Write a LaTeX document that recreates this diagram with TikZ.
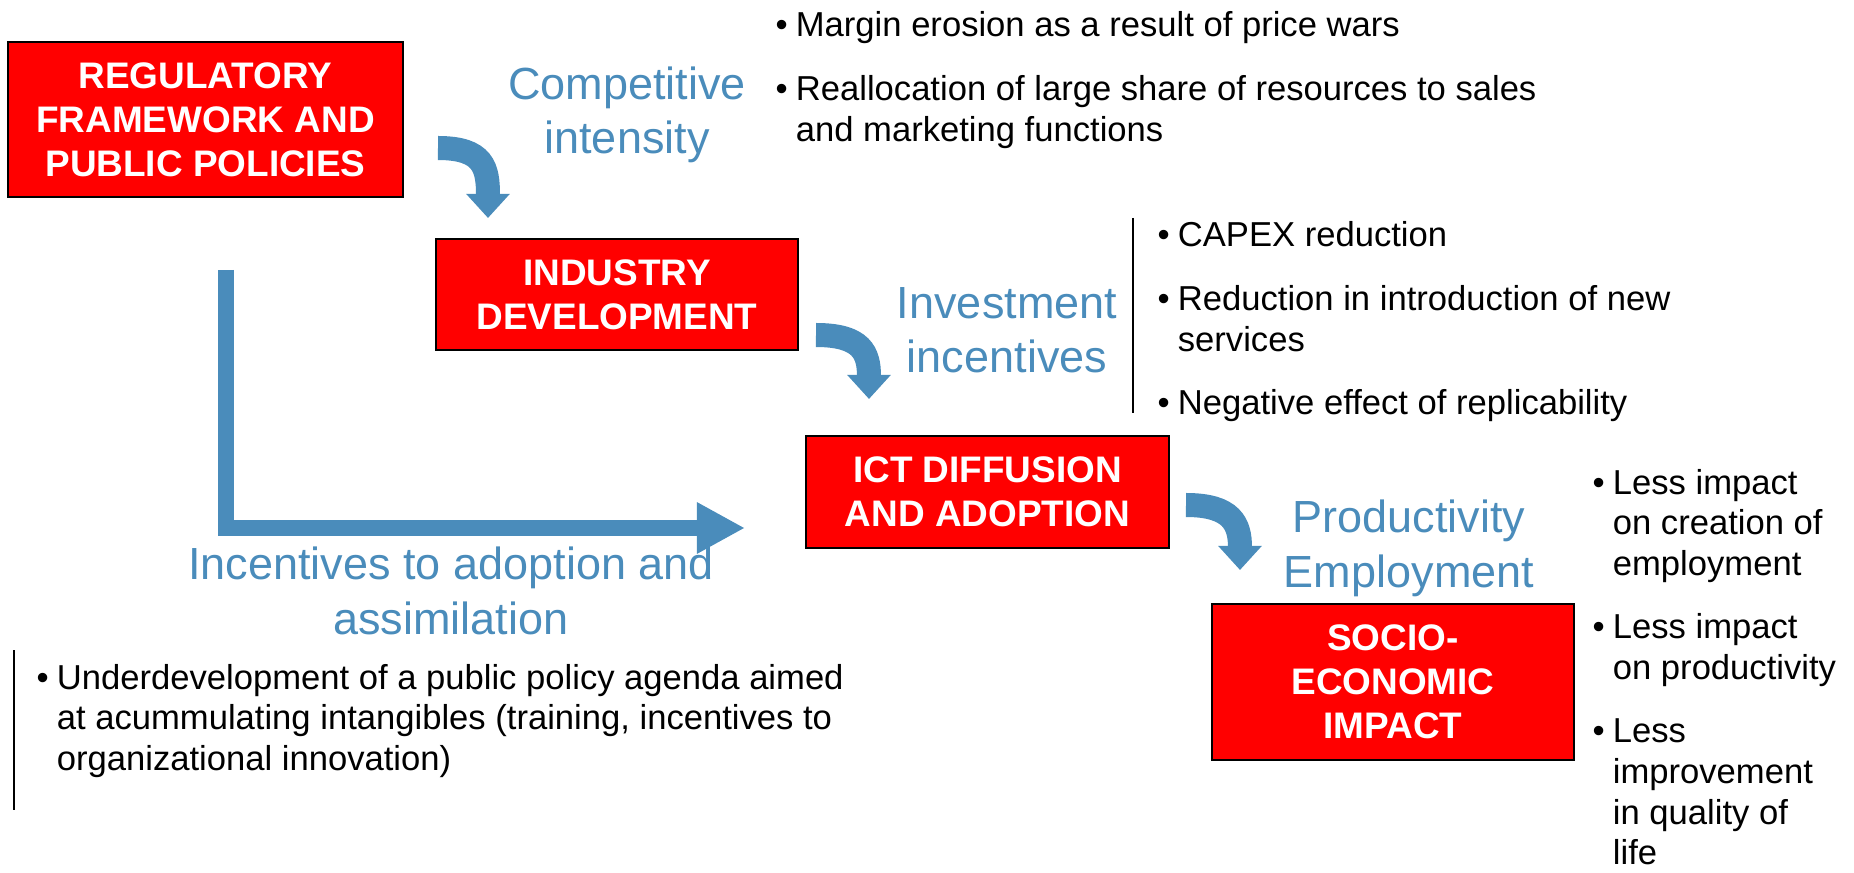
\documentclass[tikz,border=0pt]{standalone}
\usepackage{fontspec}
\setmainfont{Liberation Sans}
\usetikzlibrary{arrows.meta}

\definecolor{flowblue}{RGB}{74,140,187}

\tikzset{
  redbox/.style={draw=black, line width=0.6pt, fill=red, text=white, align=center,
    inner sep=0pt, font=\fontsize{10.5pt}{12.5pt}\selectfont\bfseries},
  bluelabel/.style={text=flowblue, align=center, anchor=base, inner sep=0pt,
    font=\fontsize{12.8pt}{15.4pt}\selectfont},
  bullets/.style={anchor=base west, inner sep=0pt, font=\fontsize{9.84pt}{11.52pt}\selectfont},
  curvy/.style={flowblue, line width=0.24cm, -{Triangle[length=0.24cm,width=0.42cm]}},
  bigarrow/.style={flowblue, line width=0.16cm, line join=miter, -{Triangle[length=0.48cm,width=0.48cm]}}
}

\begin{document}
\begin{tikzpicture}[x=0.01cm, y=-0.01cm]
\useasboundingbox (0,0) rectangle (1854,873);

% the four stages
\node[redbox, minimum width=3.95cm, minimum height=1.55cm] (reg) at (205.5,119.5) {REGULATORY\\FRAMEWORK AND\\PUBLIC POLICIES};
\node[redbox, minimum width=3.62cm, minimum height=1.11cm] (ind) at (617,294.5) {INDUSTRY\\DEVELOPMENT};
\node[redbox, minimum width=3.63cm, minimum height=1.12cm] (ict) at (987.5,492) {ICT DIFFUSION\\AND ADOPTION};
\node[redbox, minimum width=3.62cm, minimum height=1.56cm] (soc) at (1393,682) {SOCIO-\\ECONOMIC\\IMPACT};

% channels (placed at the baseline of the last line)
\node[bluelabel] (compint) at (627,154) {Competitive\\intensity};
\node[bluelabel] (invinc) at (1007,373) {Investment\\incentives};
\node[bluelabel] (prodemp) at (1409,587) {Productivity\\Employment};
\node[bluelabel] (adopt) at (451,634) {Incentives to adoption and\\assimilation};

% curved arrows
\coordinate (c1s) at (438,148);
\coordinate (c1e) at (488,218);
\coordinate (c2s) at (816,335);
\coordinate (c2e) at (869,399);
\coordinate (c3s) at (1186,505);
\coordinate (c3e) at (1240,570);
\draw[curvy] (c1s) .. controls +(46,0) and +(0,-50) .. (c1e);
\draw[curvy] (c2s) .. controls +(46,0) and +(0,-46) .. (c2e);
\draw[curvy] (c3s) .. controls +(46,0) and +(0,-46) .. (c3e);

% long arrow
\coordinate (lstart) at (226,270);
\coordinate (lend) at (745,528);
\draw[bigarrow] (lstart) |- (lend);

% effects
\node[bullets] (compnotes) at (775,37) {\begin{tabular}[t]{@{}l@{\hspace{2.3pt}}l@{}}
\textbullet & Margin erosion as a result of price wars\\[6.6pt]
\textbullet & Reallocation of large share of resources to sales\\
 & and marketing functions
\end{tabular}};
\node[bullets] (invnotes) at (1157,247) {\begin{tabular}[t]{@{}l@{\hspace{2.3pt}}l@{}}
\textbullet & CAPEX reduction\\[6.6pt]
\textbullet & Reduction in introduction of new\\
 & services\\[6.6pt]
\textbullet & Negative effect of replicability
\end{tabular}};
\node[bullets] (socnotes) at (1592,494) {\begin{tabular}[t]{@{}l@{\hspace{2.3pt}}l@{}}
\textbullet & Less impact\\
 & on creation of\\
 & employment\\[6.6pt]
\textbullet & Less impact\\
 & on productivity\\[6.6pt]
\textbullet & Less\\
 & improvement\\
 & in quality of\\
 & life
\end{tabular}};
\node[bullets] (adoptnotes) at (36,689) {\begin{tabular}[t]{@{}l@{\hspace{2.3pt}}l@{}}
\textbullet & Underdevelopment of a public policy agenda aimed\\
 & at acummulating intangibles (training, incentives to\\
 & organizational innovation)
\end{tabular}};

\draw[line width=0.4pt] (1133,218) -- (1133,413);
\draw[line width=0.4pt] (14,650) -- (14,810);
\end{tikzpicture}
\end{document}
